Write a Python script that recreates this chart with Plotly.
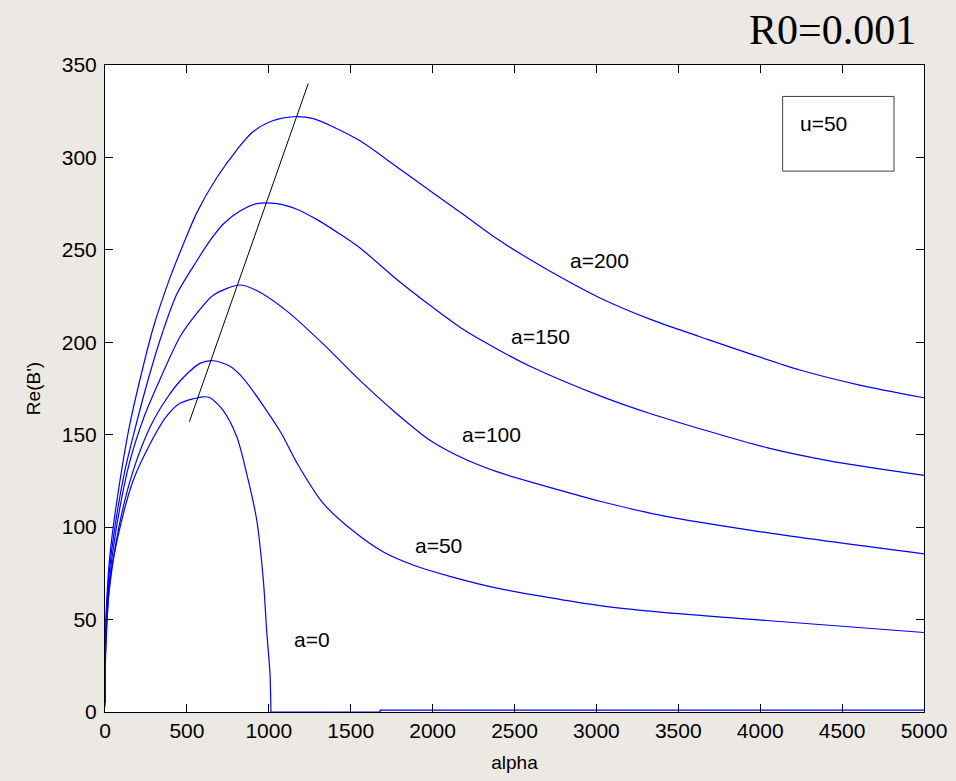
import plotly.graph_objects as go

# ---- data ----
x_a200 = [0, 2, 8, 25, 50, 100, 150, 214, 295, 397, 478, 560, 682, 804, 905, 1028, 1150, 1272, 1394, 1557, 1780, 1984, 2190, 2393, 2600, 2796, 3022, 3327, 3632, 4243, 4600, 5000]
y_a200 = [5, 35, 55, 80, 100, 130, 155, 180, 208, 235, 253, 270, 289, 304, 314, 320, 322, 321, 316.5, 309, 295, 282, 269, 256, 244.5, 234.5, 224, 212.5, 203, 185, 177, 170]

x_a150 = [0, 2, 8, 25, 60, 120, 180, 264, 350, 438, 560, 641, 722, 824, 926, 1048, 1170, 1292, 1435, 1557, 1782, 1984, 2186, 2390, 2595, 3022, 3327, 4040, 4414, 5000]
y_a150 = [5, 33, 52, 75, 100, 130, 152, 180, 205, 226, 244, 255, 264, 271, 275, 275, 272, 266.5, 258.5, 251, 234, 220, 207, 196.5, 187, 171, 161.5, 143, 136, 128]

x_a100 = [0, 2, 8, 25, 70, 150, 240, 336, 458, 560, 661, 824, 926, 1109, 1333, 1537, 1760, 1984, 2180, 2391, 2796, 3022, 3388, 4040, 5000]
y_a100 = [5, 30, 48, 70, 100, 135, 160, 180, 203, 215.6, 225.5, 231, 228, 217, 199, 181, 163, 147, 137.5, 130, 119.5, 114, 106.5, 97, 85.5]

x_a50 = [0, 2, 8, 25, 85, 170, 280, 380, 468, 580, 661, 763, 844, 1068, 1170, 1331, 1514, 1700, 1880, 2100, 2393, 3022, 3388, 4040, 5000]
y_a50 = [5, 28, 45, 65, 100, 130, 155, 170, 180, 188.6, 190, 187, 180.5, 152, 135, 113, 98, 86.5, 79.5, 73.5, 67, 57.5, 54, 49.5, 43]

x_a0 = [0, 2, 8, 30, 92, 173, 275, 376, 458, 600, 641, 722, 804, 865, 926, 967, 987, 1007, 1013]
y_a0 = [3, 25, 40, 71, 100, 125.5, 145, 160, 167, 170.5, 170, 163, 149, 129, 104, 71, 44, 21, 0]
x_a0_tail = [1013, 1680, 1680, 5000]
y_a0_tail = [0, 0, 1.0, 1.0]

x_line = [515, 1241]
y_line = [157, 340]

labels = ["a=200", "a=150", "a=100", "a=50", "a=0"]
label_x = [3016, 2656, 2360, 2033, 1264]
label_y = [244, 203, 150, 90, 39]

x_ticks = [0, 500, 1000, 1500, 2000, 2500, 3000, 3500, 4000, 4500, 5000]
y_ticks = [0, 50, 100, 150, 200, 250, 300, 350]

BLUE = "#0000FF"
BG = "#ECE8E4"
FONT = "Liberation Sans, Arial, sans-serif"

fig = go.Figure()
series = [(x_a200, y_a200), (x_a150, y_a150), (x_a100, y_a100), (x_a50, y_a50), (x_a0, y_a0)]
for (xs, ys), name in zip(series, labels):
    fig.add_trace(go.Scatter(x=xs, y=ys, mode="lines", name=name,
                             line=dict(color=BLUE, width=1.2, shape="spline", smoothing=0.8),
                             showlegend=False, hoverinfo="x+y"))
fig.add_trace(go.Scatter(x=x_a0_tail, y=y_a0_tail, mode="lines", name="a=0",
                         line=dict(color=BLUE, width=1.2), showlegend=False))
fig.add_trace(go.Scatter(x=x_line, y=y_line, mode="lines", line=dict(color="black", width=1),
                         showlegend=False))

for t, xx, yy in zip(labels, label_x, label_y):
    fig.add_annotation(x=xx, y=yy, xref="x", yref="y", text=t, showarrow=False,
                       font=dict(family=FONT, size=21, color="black"),
                       xanchor="center", yanchor="middle")

# u=50 box
fig.add_shape(type="rect", xref="x", yref="y", x0=4137, x1=4817, y0=292.6, y1=333,
              line=dict(color="#404040", width=1), fillcolor="white", layer="above")
fig.add_annotation(x=4231, y=318.5, xref="x", yref="y", text="u=50", showarrow=False,
                   font=dict(family=FONT, size=21, color="black"), xanchor="left", yanchor="middle")

fig.add_annotation(x=0.8877, y=1.054, xref="paper", yref="paper", text="R0=0.001", showarrow=False,
                   font=dict(family="Liberation Serif, Times New Roman, serif", size=42, color="black"),
                   xanchor="center", yanchor="middle")

axis_common = dict(showline=True, linecolor="black", linewidth=1, mirror="ticks",
                   ticks="inside", ticklen=8, tickcolor="black", tickwidth=1,
                   showgrid=False, zeroline=False, automargin=False,
                   tickfont=dict(family=FONT, size=21, color="black"))

fig.update_layout(
    width=956, height=781,
    margin=dict(l=105, r=32, t=65, b=69),
    paper_bgcolor=BG, plot_bgcolor="white",
    xaxis=dict(range=[0, 5000], tickvals=x_ticks, ticktext=[str(v) for v in x_ticks],
               title=dict(text="alpha", font=dict(family=FONT, size=19, color="black"), standoff=14),
               ticklabelstandoff=0, **axis_common),
    yaxis=dict(range=[0, 350], tickvals=y_ticks, ticktext=[str(v) for v in y_ticks],
               title=dict(text="Re(B')", font=dict(family=FONT, size=19, color="black"), standoff=16),
               ticklabelstandoff=3, **axis_common),
)

fig.write_html("out.html", config={"displayModeBar": False},
               post_script="document.body.style.margin='0';document.body.style.background='%s';" % BG)
